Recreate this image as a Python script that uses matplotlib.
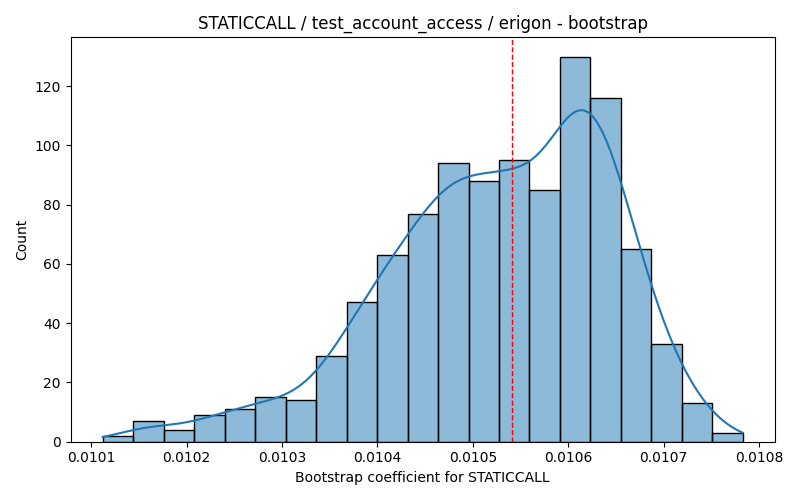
import numpy as np
import matplotlib
matplotlib.use("Agg")
import matplotlib.pyplot as plt
import seaborn as sns

# Histogram (21 bins)
BIN_START = 0.0101119
BIN_END = 0.0107832
COUNTS = [2, 7, 4, 9, 11, 15, 14, 29, 47, 63, 77, 94, 88, 95, 85, 130, 116, 65, 33, 13, 3]
MEAN_LINE = 0.0105416

TITLE = "STATICCALL / test_account_access / erigon - bootstrap"
XLABEL = "Bootstrap coefficient for STATICCALL"


def kde_curve(sample, grid):
    # gaussian kde, scott bandwidth (same rule seaborn uses)
    n = len(sample)
    bw = sample.std(ddof=1) * n ** (-1 / 5)
    z = (grid[:, None] - sample[None, :]) / bw
    return np.exp(-0.5 * z ** 2).sum(axis=1) / (n * bw * np.sqrt(2 * np.pi))


def main():
    edges = np.linspace(BIN_START, BIN_END, len(COUNTS) + 1)
    centers = (edges[:-1] + edges[1:]) / 2
    width = edges[1] - edges[0]
    sample = np.repeat(centers, COUNTS)

    fig, ax = plt.subplots(figsize=(8, 5), dpi=100)
    sns.histplot(x=centers, weights=np.array(COUNTS, dtype=float),
                 bins=len(COUNTS), binrange=(BIN_START, BIN_END),
                 alpha=0.5, ax=ax)

    grid = np.linspace(BIN_START, BIN_END, 300)
    dens = kde_curve(sample, grid) * len(sample) * width
    ax.plot(grid, dens, color=sns.color_palette()[0], linewidth=1.5)

    ax.axvline(MEAN_LINE, color="red", linestyle="--", linewidth=1)
    ax.set_xlim(BIN_START - 0.05 * (BIN_END - BIN_START),
                BIN_END + 0.05 * (BIN_END - BIN_START))

    ax.set_title(TITLE)
    ax.set_xlabel(XLABEL)
    ax.set_ylabel("Count")
    fig.tight_layout()
    fig.savefig("out.png")
    plt.close(fig)


if __name__ == "__main__":
    main()
